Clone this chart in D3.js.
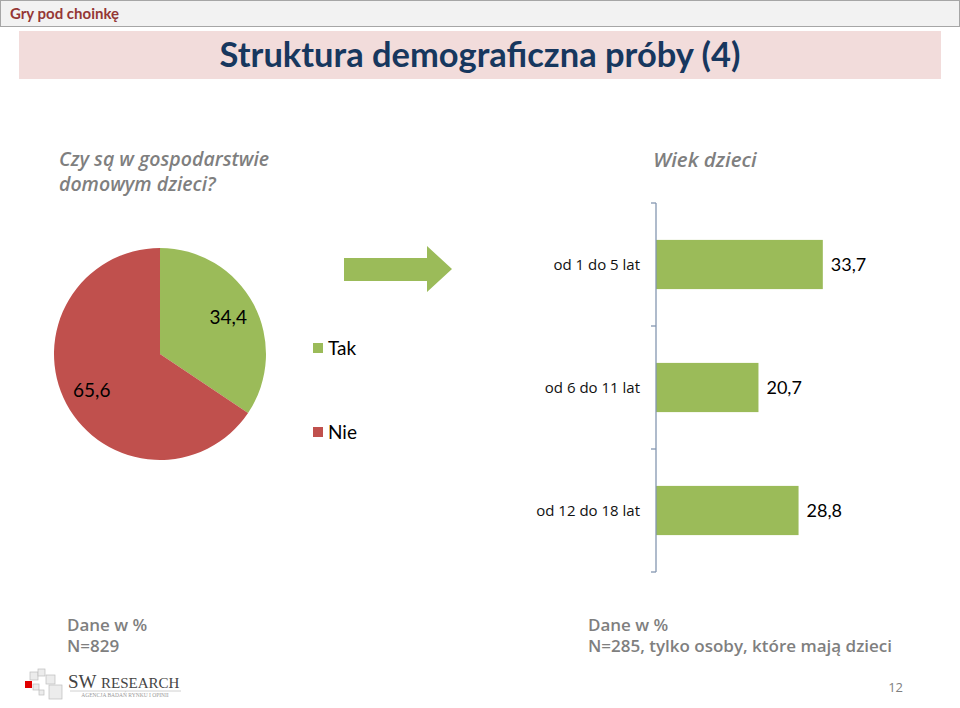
<!DOCTYPE html>
<html><head><meta charset="utf-8">
<script src="https://cdn.jsdelivr.net/npm/d3@7"></script>
<style>body{margin:0;background:#fff}svg{display:block}</style>
</head><body><svg id="c" width="960" height="708"></svg>
<script>
const pieCategories = ["Tak", "Nie"];
const pieValues = [34.4, 65.6];
const pieLabels = ["34,4", "65,6"];
const barCategories = ["od 1 do 5  lat", "od 6 do 11 lat", "od 12 do 18 lat"];
const barValues = [33.7, 20.7, 28.8];
const barLabels = ["33,7", "20,7", "28,8"];

const GREEN = "#9bbb59", RED = "#c0504d", GRAY = "#7f7f7f";
const LATO = "Lato, 'Open Sans', sans-serif", OPEN = "'Open Sans', 'Noto Sans', sans-serif", SERIF = "'Liberation Serif', serif";
const svg = d3.select("#c");

function fit(sel, w) {
  const l = sel.node().getComputedTextLength();
  sel.attr("font-size", (+sel.attr("font-size")) * w / l);
  return sel;
}

// header strip
svg.append("rect").attr("x",0.5).attr("y",0.5).attr("width",959).attr("height",26).attr("fill","#f2f2f2").attr("stroke","#a6a6a6");
svg.append("text").attr("x",10).attr("y",19).attr("font-family",LATO).attr("font-size",15).attr("font-weight","bold").attr("fill","#953735").text("Gry pod choinkę");
svg.append("rect").attr("x",19).attr("y",31).attr("width",922).attr("height",48).attr("fill","#f2dcdb");
fit(svg.append("text").attr("x",480).attr("y",67).attr("text-anchor","middle").attr("font-family",LATO).attr("font-size",30).attr("font-weight","bold").attr("fill","#17375e").text("Struktura demograficzna próby (4)"), 521);

// subtitles
const subStyle = s => s.attr("font-family",OPEN).attr("font-size",19.5).attr("font-weight",600).attr("font-style","italic").attr("fill",GRAY);
svg.append("text").attr("x",59).attr("y",166).call(subStyle).text("Czy są w gospodarstwie");
svg.append("text").attr("x",59).attr("y",191).call(subStyle).text("domowym dzieci?");
svg.append("text").attr("x",705).attr("y",167).attr("text-anchor","middle").call(subStyle).attr("font-size",20.5).text("Wiek dzieci");

// pie
const cx = 160, cy = 354, R = 106;
const pie = d3.pie().sort(null).value(d => d)(pieValues);
const arc = d3.arc().innerRadius(0).outerRadius(R);
const colors = d3.scaleOrdinal().domain(pieCategories).range([GREEN, RED]);
const pg = svg.append("g").attr("transform",`translate(${cx},${cy})`);
pg.selectAll("path").data(pie).join("path").attr("d",arc).attr("fill",(d,i)=>colors(pieCategories[i]));
const labelArc = d3.arc().innerRadius(R*0.73).outerRadius(R*0.73);
pg.selectAll("text").data(pie).join("text")
  .attr("transform",d=>`translate(${labelArc.centroid(d)})`)
  .attr("text-anchor","middle").attr("dy","0.35em").attr("font-family",LATO).attr("font-size",19).attr("fill","#000").text((d,i)=>pieLabels[i]);

// legend
const legY = d3.scalePoint().domain(pieCategories).range([348, 432]);
pieCategories.forEach(c => {
  svg.append("rect").attr("x",313).attr("y",legY(c)-5).attr("width",10).attr("height",10).attr("fill",colors(c));
  svg.append("text").attr("x",328).attr("y",legY(c)).attr("dy","0.35em").attr("font-family",LATO).attr("font-size",19).attr("fill","#000").text(c);
});

// arrow
svg.append("path").attr("d","M344,258 L427,258 L427,246 L452,269 L427,292 L427,281 L344,281 Z").attr("fill",GREEN);

// bar chart
const x = d3.scaleLinear().domain([0, 40]).range([656, 854]);
const y = d3.scaleBand().domain(barCategories).range([203, 572]).paddingInner(0.6).paddingOuter(0.3);
const bg = svg.append("g");
bg.selectAll("rect").data(barValues).join("rect")
  .attr("x", x(0)).attr("y",(d,i)=>y(barCategories[i])).attr("width",d=>x(d)-x(0)).attr("height",y.bandwidth()).attr("fill",GREEN);
bg.selectAll("text.v").data(barValues).join("text").attr("class","v")
  .attr("x",d=>x(d)+8).attr("y",(d,i)=>y(barCategories[i])+y.bandwidth()/2).attr("dy","0.35em").attr("font-family",LATO).attr("font-size",18).attr("fill","#000").text((d,i)=>barLabels[i]);
const yAxis = d3.scaleLinear().domain([0,3]).range([203,572]);
const ag = svg.append("g").attr("stroke","#8497b0").attr("stroke-width",1.3);
ag.append("line").attr("x1",656).attr("x2",656).attr("y1",203).attr("y2",572);
[0,1,2,3].forEach(t => ag.append("line").attr("x1",651).attr("x2",656).attr("y1",yAxis(t)).attr("y2",yAxis(t)));
bg.selectAll("text.c").data(barCategories).join("text").attr("class","c")
  .attr("x",640).attr("y",d=>y(d)+y.bandwidth()/2).attr("dy","0.35em").attr("text-anchor","end").attr("font-family",OPEN).attr("font-size",15).attr("fill","#111").text(d=>d);

// footers
const footStyle = s => s.attr("font-family",OPEN).attr("font-size",17).attr("font-weight",600).attr("fill",GRAY);
function foot(xp, lines){
  svg.append("text").attr("x",xp).attr("y",631).call(footStyle).text(lines[0]);
  svg.append("text").attr("x",xp).attr("y",652).call(footStyle).text(lines[1]);
}
foot(67, ["Dane w %", "N=829"]);
foot(588, ["Dane w %", "N=285, tylko osoby, które mają dzieci"]);
svg.append("text").attr("x",903).attr("y",692).attr("text-anchor","end").attr("font-family",OPEN).attr("font-size",13).attr("fill",GRAY).text("12");

// logo
const logo = svg.append("g");
[[30,672,8,8],[38,669,7,7],[46,675,9,9],[33,684,6,6],[49,685,13,14],[39,690,5,5]].forEach(r=>
  logo.append("rect").attr("x",r[0]).attr("y",r[1]).attr("width",r[2]).attr("height",r[3]).attr("fill","#ececec").attr("stroke","#bdbdbd").attr("stroke-width",0.7));
logo.append("rect").attr("x",25).attr("y",681).attr("width",7).attr("height",7).attr("fill","#e00000");
logo.append("text").attr("x",68).attr("y",688).attr("font-family",SERIF).attr("font-size",19).attr("fill","#444").text("SW");
logo.append("text").attr("x",101).attr("y",688).attr("font-family",SERIF).attr("font-size",15).attr("fill","#444").text("RESEARCH");
logo.append("line").attr("x1",70).attr("x2",181).attr("y1",691).attr("y2",691).attr("stroke","#d0d0d0");
logo.append("text").attr("x",125).attr("y",697).attr("text-anchor","middle").attr("font-family",SERIF).attr("font-size",5.5).attr("fill","#999").text("AGENCJA BADAŃ RYNKU I OPINII");
</script></body></html>
